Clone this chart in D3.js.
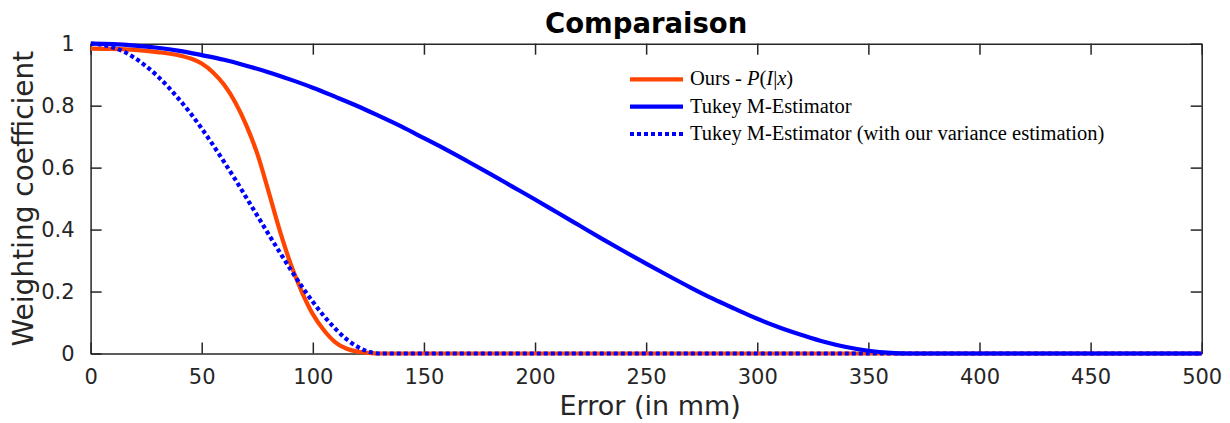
<!DOCTYPE html>
<html><head><meta charset="utf-8">
<script src="https://cdn.jsdelivr.net/npm/d3@7"></script>
<style>body{margin:0;background:#fff}svg{display:block}</style>
</head><body>
<svg id="chart" width="1230" height="423"></svg>
<script>
// Error values (mm) and weighting coefficients
const oursX = [0,10,20,30,40,45,50,55,60,65,70,75,80,85,90,95,100,105,110,115,120,125,130,200,300,400,500];
const oursY = [0.984,0.983,0.980,0.973,0.962,0.952,0.936,0.908,0.868,0.812,0.738,0.645,0.525,0.400,0.290,0.200,0.127,0.075,0.037,0.016,0.006,0.002,0,0,0,0,0];

const tukeyX = [0,10,20,30,40,50,60,70,80,90,100,110,120,130,140,150,160,170,180,190,200,210,220,230,240,250,260,270,280,290,300,310,320,330,340,350,360,368,400,450,500];
const tukeyY = [1,0.9985,0.994,0.987,0.977,0.963,0.948,0.929,0.908,0.884,0.858,0.829,0.799,0.766,0.732,0.695,0.658,0.619,0.579,0.538,0.497,0.455,0.413,0.371,0.330,0.290,0.251,0.213,0.177,0.144,0.112,0.084,0.060,0.038,0.021,0.009,0.002,0,0,0,0];

const tukeyVarX = [0,5,10,15,20,25,30,35,40,45,50,55,60,65,70,75,80,85,90,95,100,105,110,115,120,125,130,200,300,400,500];
const tukeyVarY = [1,0.997,0.988,0.974,0.953,0.927,0.896,0.860,0.819,0.775,0.726,0.674,0.619,0.563,0.504,0.445,0.386,0.328,0.271,0.217,0.167,0.121,0.081,0.047,0.022,0.006,0,0,0,0,0];

const xTicks = [0,50,100,150,200,250,300,350,400,450,500];
const yTicks = [0,0.2,0.4,0.6,0.8,1];

const legendLabels = ["Ours - ", "Tukey M-Estimator", "Tukey M-Estimator (with our variance estimation)"];

const svg = d3.select("#chart");
const L = 90.6, R = 1201.7, T = 43.7, B = 353.5;
const x = d3.scaleLinear().domain([0,500]).range([L,R]);
const y = d3.scaleLinear().domain([0,1]).range([B,T]);
const axisColor = "#262626";
const font = "'DejaVu Sans', sans-serif";

function styleAxis(g){
  g.select(".domain").attr("stroke", axisColor).attr("stroke-width", 1.5);
  g.selectAll(".tick line").attr("stroke", axisColor).attr("stroke-width", 1.5);
  g.selectAll(".tick text").attr("fill", axisColor).attr("font-family", font).attr("font-size", 21);
}
const fmtY = d => d3.format("~g")(d);
svg.append("g").attr("transform",`translate(0,${B})`)
  .call(d3.axisBottom(x).tickValues(xTicks).tickSizeInner(-11).tickSizeOuter(0).tickPadding(16).tickFormat(d3.format("d")))
  .call(styleAxis);
svg.append("g").attr("transform",`translate(0,${T})`)
  .call(d3.axisTop(x).tickValues(xTicks).tickSizeInner(-11).tickSizeOuter(0).tickFormat(""))
  .call(styleAxis);
svg.append("g").attr("transform",`translate(${L},0)`)
  .call(d3.axisLeft(y).tickValues(yTicks).tickSizeInner(-11).tickSizeOuter(0).tickPadding(16).tickFormat(fmtY))
  .call(styleAxis);
svg.append("g").attr("transform",`translate(${R},0)`)
  .call(d3.axisRight(y).tickValues(yTicks).tickSizeInner(-11).tickSizeOuter(0).tickFormat(""))
  .call(styleAxis);

// Lines
const line = d3.line().x(d => x(d[0])).y(d => y(d[1])).curve(d3.curveMonotoneX);
svg.append("clipPath").attr("id","clip").append("rect")
  .attr("x", L).attr("y", T-4).attr("width", R-L+3).attr("height", B-T+8);
const plot = svg.append("g").attr("clip-path","url(#clip)");
plot.append("path").datum(d3.zip(oursX, oursY)).attr("d", line)
  .attr("fill","none").attr("stroke","#FF4500").attr("stroke-width",4.2);
plot.append("path").datum(d3.zip(tukeyX, tukeyY)).attr("d", line)
  .attr("fill","none").attr("stroke","#0000FF").attr("stroke-width",4.2);
plot.append("path").datum(d3.zip(tukeyVarX, tukeyVarY)).attr("d", line)
  .attr("fill","none").attr("stroke","#0000FF").attr("stroke-width",4.2).attr("stroke-dasharray","4,3");

// Title and axis labels
svg.append("text").attr("x", (L+R)/2).attr("y", 33).attr("text-anchor","middle")
  .attr("font-family", font).attr("font-weight","bold").attr("font-size", 27.5).attr("fill","#000")
  .text("Comparaison");
svg.append("text").attr("x", (L+R)/2 + 4).attr("y", 415).attr("text-anchor","middle")
  .attr("font-family", font).attr("font-size", 27).attr("fill", axisColor)
  .text("Error (in mm)");
svg.append("text").attr("transform",`translate(33,${(T+B)/2}) rotate(-90)`).attr("text-anchor","middle")
  .attr("font-family", font).attr("font-size", 28).attr("fill", axisColor)
  .text("Weighting coefficient");

// Legend
const serif = "'Liberation Serif', 'DejaVu Serif', serif";
const legRows = [
  {color:"#FF4500", dash:null},
  {color:"#0000FF", dash:null},
  {color:"#0000FF", dash:"4,3"}
];
const ly = [79.3, 106.7, 134];
legRows.forEach((r,i) => {
  svg.append("line").attr("x1",630).attr("x2",683).attr("y1",ly[i]).attr("y2",ly[i])
    .attr("stroke", r.color).attr("stroke-width",4.2).attr("stroke-dasharray", r.dash);
  const t = svg.append("text").attr("x",690).attr("y",ly[i]+6).attr("font-family",serif)
    .attr("font-size",20.5).attr("fill","#000").text(legendLabels[i]);
  if(i===0){
    t.append("tspan").attr("font-style","italic").text("P");
    t.append("tspan").text("(");
    t.append("tspan").attr("font-style","italic").text("I");
    t.append("tspan").text("|");
    t.append("tspan").attr("font-style","italic").text("x");
    t.append("tspan").text(")");
  }
});
</script>
</body></html>
